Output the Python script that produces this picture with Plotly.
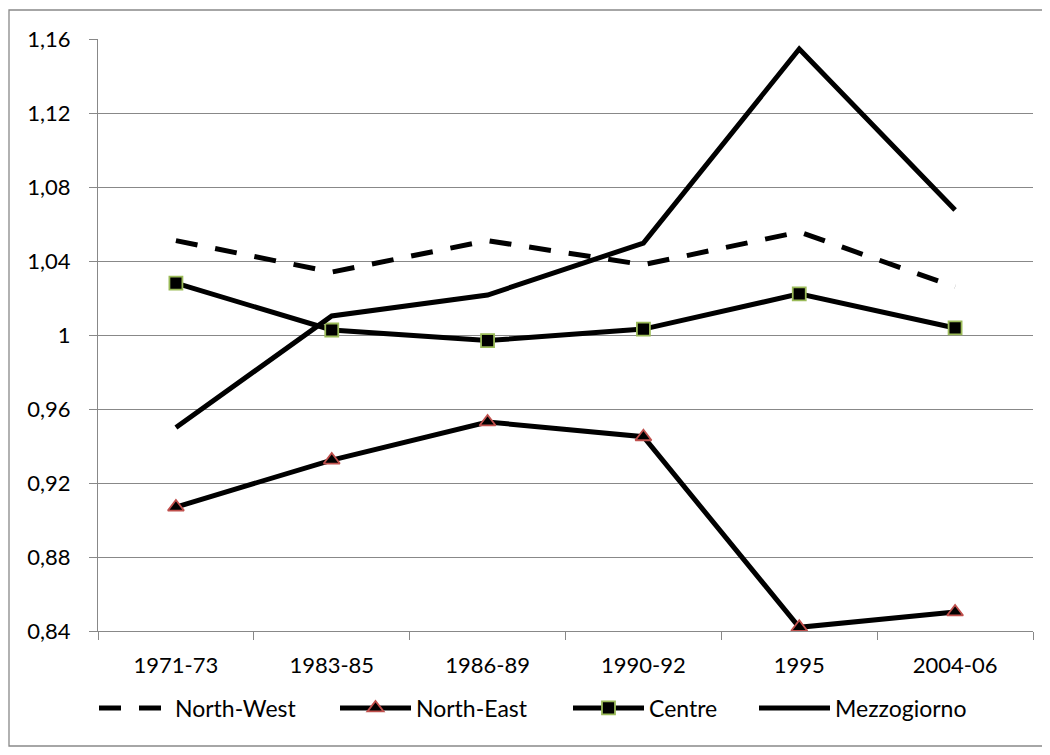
import plotly.graph_objects as go

categories = ["1971-73", "1983-85", "1986-89", "1990-92", "1995", "2004-06"]
north_west = [1.051, 1.034, 1.051, 1.038, 1.0557, 1.026]
north_east = [0.907, 0.9324, 0.953, 0.945, 0.842, 0.8503]
centre = [1.028, 1.0027, 0.9970, 1.0032, 1.0222, 1.0038]
mezzogiorno = [0.950, 1.0103, 1.0216, 1.0497, 1.1546, 1.0676]

y_tickvals = [0.84, 0.88, 0.92, 0.96, 1.0, 1.04, 1.08, 1.12, 1.16]
y_ticktext = ["0,84", "0,88", "0,92", "0,96", "1", "1,04", "1,08", "1,12", "1,16"]

FONT = "Lato, 'Open Sans', sans-serif"
TICK_SIZE = 22
LEG_SIZE = 23
OFF = 8  # page body margin
W, H = 1050 - OFF, 755 - OFF
L, T = 98 - OFF, 39 - OFF
PR, PB = 1033 - OFF, 631 - OFF
R, B = W - PR, H - PB
pw, ph = PR - L, PB - T


def px_x(x):
    return (x - OFF - L) / pw


def px_y(y):
    return (PB - (y - OFF)) / ph


fig = go.Figure()
fig.add_trace(go.Scatter(x=categories, y=north_west, name="North-West", mode="lines",
                         legend="legend",
                         line=dict(color="black", width=5, dash="22px,18px")))
fig.add_trace(go.Scatter(x=categories, y=north_east, name="North-East", mode="lines+markers",
                         legend="legend2",
                         line=dict(color="black", width=5),
                         marker=dict(symbol="triangle-up", size=14, color="black",
                                     line=dict(color="#C0504D", width=1.8))))
fig.add_trace(go.Scatter(x=categories, y=centre, name="Centre", mode="lines+markers",
                         legend="legend3",
                         line=dict(color="black", width=5),
                         marker=dict(symbol="square", size=13, color="black",
                                     line=dict(color="#9BBB59", width=1.8))))
fig.add_trace(go.Scatter(x=categories, y=mezzogiorno, name="Mezzogiorno", mode="lines",
                         legend="legend4",
                         line=dict(color="black", width=5)))

fig.add_shape(type="rect", xref="paper", yref="paper",
              x0=px_x(9), x1=px_x(1046), y0=px_y(746), y1=px_y(10),
              line=dict(color="#898989", width=1.3), fillcolor="rgba(0,0,0,0)", layer="below")

legend_font = dict(family=FONT, size=LEG_SIZE, color="black")


def leg(line_start):
    return dict(orientation="h", x=px_x(line_start - 7), xanchor="left",
                y=px_y(708), yanchor="middle", font=legend_font, itemwidth=71,
                bgcolor="rgba(0,0,0,0)")


fig.update_layout(
    width=W, height=H,
    margin=dict(l=L, r=R, t=T, b=B, autoexpand=False),
    paper_bgcolor="white", plot_bgcolor="white",
    font=dict(family=FONT, size=TICK_SIZE, color="black"),
    showlegend=True,
    legend=leg(101), legend2=leg(342), legend3=leg(575), legend4=leg(761),
)
fig.update_xaxes(type="category", showgrid=False, showline=True, linecolor="#888888",
                 linewidth=1.3, ticks="outside", ticklen=8, tickcolor="#888888",
                 tickson="boundaries", tickfont=dict(family=FONT, size=TICK_SIZE),
                 ticklabelstandoff=14,
                 range=[-0.5, len(categories) - 0.5], fixedrange=True)
fig.update_yaxes(range=[0.84, 1.16], tickvals=y_tickvals, ticktext=y_ticktext,
                 showgrid=True, gridcolor="#888888", gridwidth=1.3, zeroline=False,
                 showline=True, linecolor="#888888", linewidth=1.3,
                 ticks="outside", ticklen=8, tickcolor="#888888",
                 ticklabelstandoff=14, tickfont=dict(family=FONT, size=TICK_SIZE))

fig.write_html("out.html")
